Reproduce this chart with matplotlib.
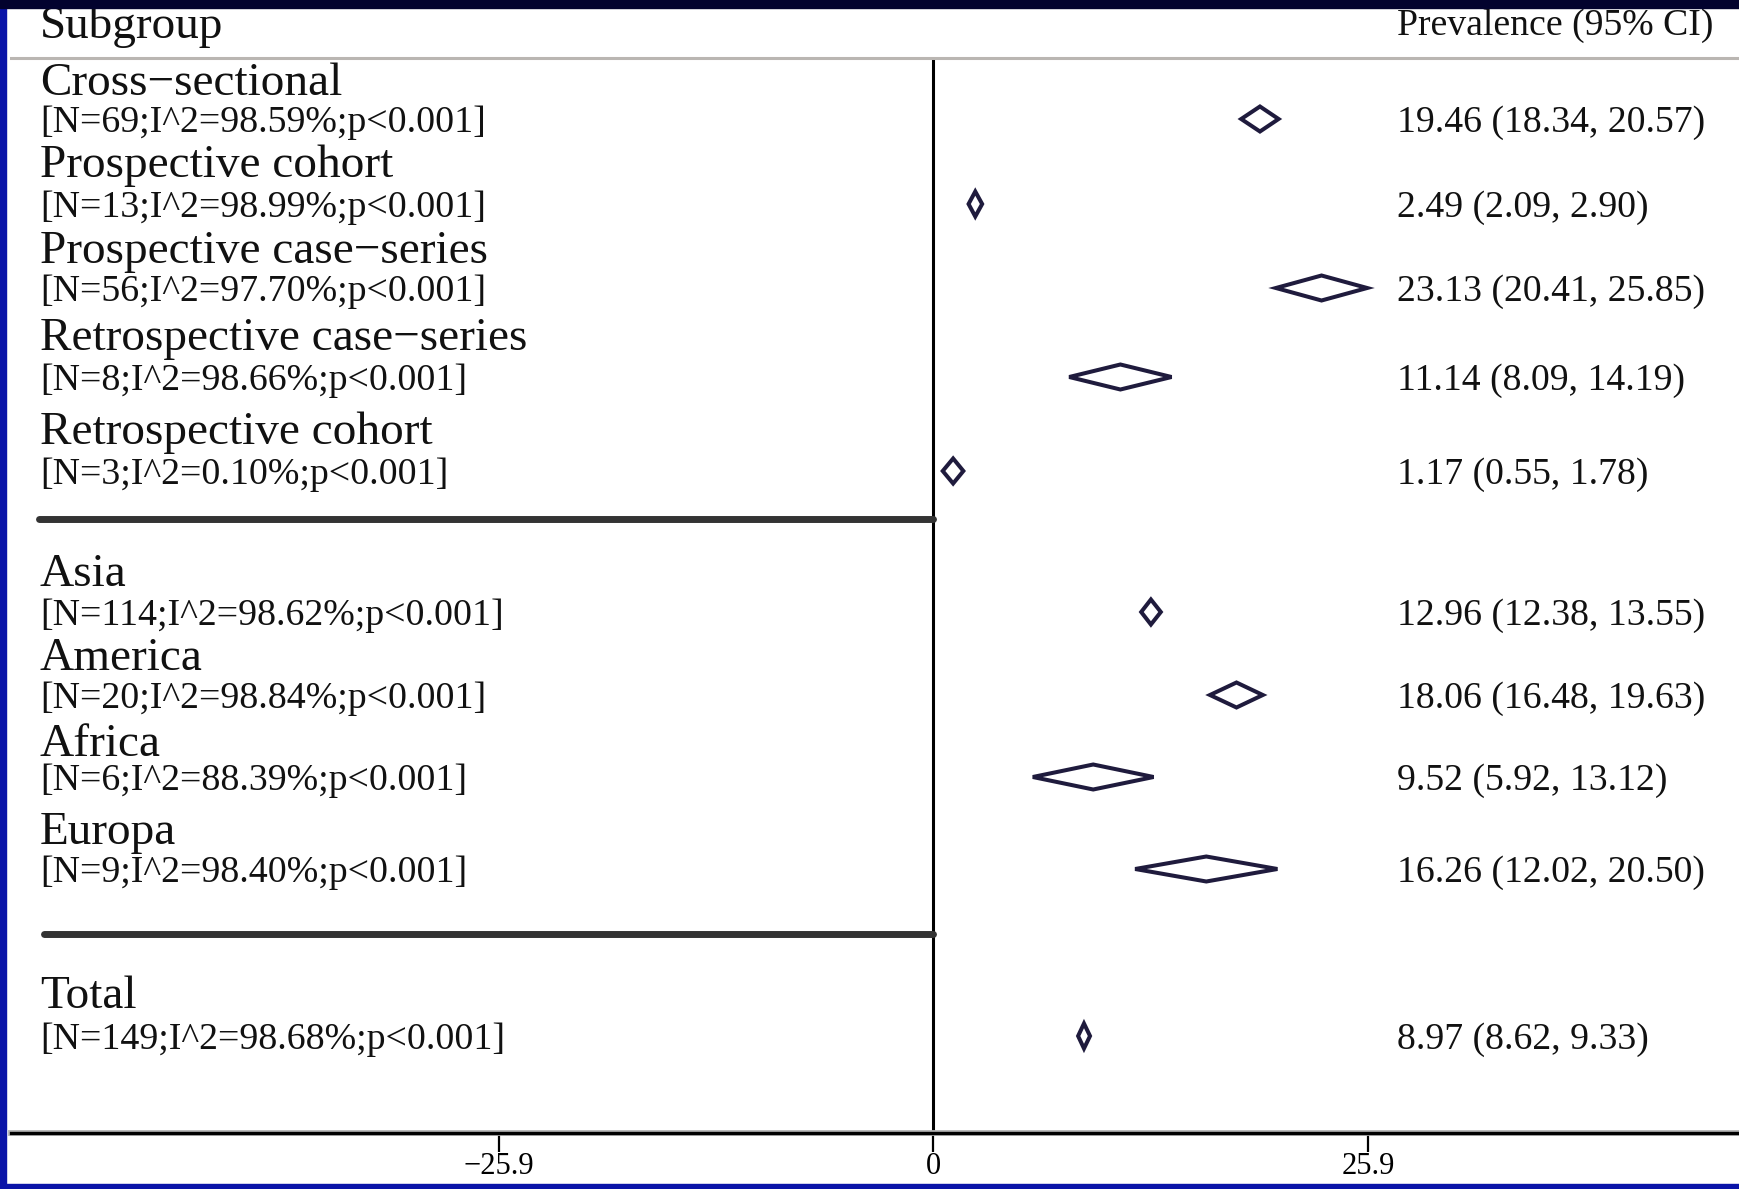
import numpy as np
import matplotlib
matplotlib.use('Agg')
from matplotlib import pyplot as plt
from matplotlib import transforms
from matplotlib.patches import Rectangle
import matplotlib.patheffects as pe

plt.rcParams['font.family'] = ['Liberation Serif', 'DejaVu Serif']

# subgroup data
groups = ['Cross\u2212sectional', 'Prospective cohort', 'Prospective case\u2212series',
          'Retrospective case\u2212series', 'Retrospective cohort',
          'Asia', 'America', 'Africa', 'Europa', 'Total']
n_studies = [69, 13, 56, 8, 3, 114, 20, 6, 9, 149]
i2 = [98.59, 98.99, 97.70, 98.66, 0.10, 98.62, 98.84, 88.39, 98.40, 98.68]
est = [19.46, 2.49, 23.13, 11.14, 1.17, 12.96, 18.06, 9.52, 16.26, 8.97]
lo = [18.34, 2.09, 20.41, 8.09, 0.55, 12.38, 16.48, 5.92, 12.02, 8.62]
hi = [20.57, 2.90, 25.85, 14.19, 1.78, 13.55, 19.63, 13.12, 20.50, 9.33]
xticks_pos = [-25.9, 0, 25.9]
xticks_label = ['\u221225.9', '0', '25.9']

# layout (pixel rows of the 1739x1189 picture)
W, H = 1739, 1189
title_y = [79, 161, 247, 334, 428, 570, 654, 740, 828, 992]
stat_y = [119, 204, 288, 377, 471, 612, 695, 777, 869, 1036]
sep_y = [519, 934]
dia_h = 25
ax_top, ax_bot = 58, 1133
px_per_unit = 869 / 51.8
zero_px = 933.5

def px2x(p):
    return (p - zero_px) / px_per_unit

fig = plt.figure(figsize=(W / 100, H / 100), dpi=100, facecolor='white')

# frame of the slide
fig.patches.append(Rectangle((0, 0), 6 / W, 1, transform=fig.transFigure, color='#0a14a8', zorder=0))
fig.patches.append(Rectangle((0, 0), 1, 5 / H, transform=fig.transFigure, color='#0a14a8', zorder=0))
fig.patches.append(Rectangle((0, 1 - 8 / H), 1, 8 / H, transform=fig.transFigure, color='#02022e', zorder=0))

ax = fig.add_axes([11 / W, 1 - ax_bot / H, 1 - 11 / W, (ax_bot - ax_top) / H])
ax.set_facecolor('none')
ax.set_xlim(px2x(11), px2x(W))
ax.set_ylim(ax_bot, ax_top)

for s in ['left', 'right']:
    ax.spines[s].set_visible(False)
ax.spines['top'].set_color('#bab6b2')
ax.spines['top'].set_linewidth(2.2)
ax.spines['bottom'].set_color('black')
ax.spines['bottom'].set_linewidth(2.4)
ax.spines['bottom'].set_path_effects([pe.withStroke(linewidth=4.2, foreground='#b4b4b4')])

ax.set_yticks([])
ax.set_xticks(xticks_pos)
ax.set_xticklabels(xticks_label, fontsize=22)
ax.tick_params(axis='x', direction='out', length=13.5, width=1.6, pad=0, color='black')

ax.axvline(0, color='black', lw=2.2, zorder=2)

for y, xl in zip(sep_y, [39, 44]):
    ax.plot([px2x(xl), 0], [y, y], color='#333333', lw=5, solid_capstyle='round', zorder=3)

# diamonds
for i in range(len(groups)):
    y = stat_y[i]
    xs = [lo[i], est[i], hi[i], est[i], lo[i]]
    ys = [y, y - dia_h / 2, y, y + dia_h / 2, y]
    ax.fill(xs, ys, facecolor='white', edgecolor='#1f1b3d', lw=2.9, joinstyle='miter', zorder=4)

tr = transforms.blended_transform_factory(fig.transFigure, ax.transData)
left_x = 40 / W
right_x = 1397 / W

ax.text(left_x, 22, 'Subgroup', transform=tr, fontsize=34, va='center_baseline', color='#111111')
ax.text(right_x, 22, 'Prevalence (95% CI)', transform=tr, fontsize=27.2, va='center_baseline', color='#111111')

for i in range(len(groups)):
    ax.text(left_x, title_y[i], groups[i], transform=tr, fontsize=34,
            va='center_baseline', color='#111111')
    stat = '[N=%d;I^2=%.2f%%;p<0.001]' % (n_studies[i], i2[i])
    ax.text(left_x, stat_y[i], stat, transform=tr, fontsize=27.3,
            va='center_baseline', color='#111111')
    val = '%.2f (%.2f, %.2f)' % (est[i], lo[i], hi[i])
    ax.text(right_x, stat_y[i], val, transform=tr, fontsize=27.2,
            va='center_baseline', color='#111111')

plt.savefig('out.png', dpi=100, facecolor='white')
